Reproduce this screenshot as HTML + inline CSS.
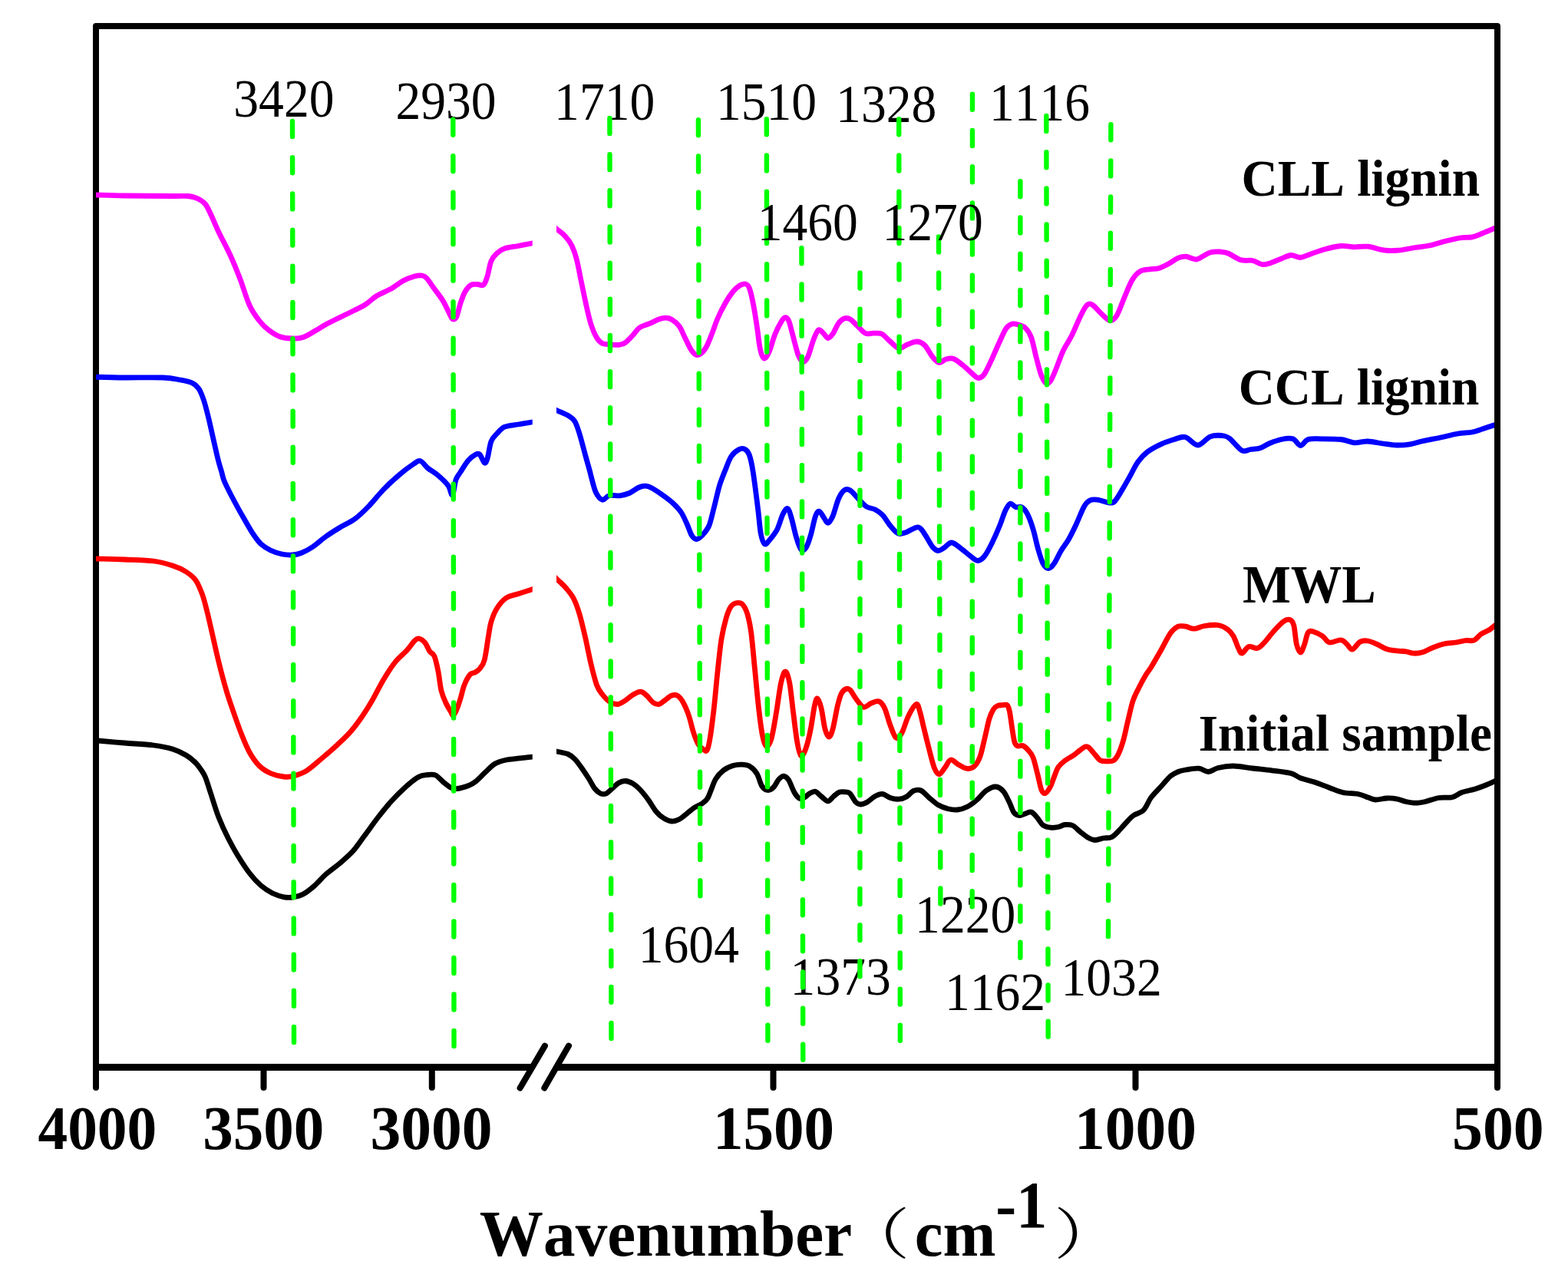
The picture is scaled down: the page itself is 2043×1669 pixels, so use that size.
<!DOCTYPE html>
<html><head><meta charset="utf-8"><title>FTIR spectra</title>
<style>
html,body{margin:0;padding:0;background:#fff;}
svg{display:block;}
text{font-family:"Liberation Serif","Noto Serif CJK SC",serif;font-size:100px;fill:#000;font-kerning:none;}
text.b{font-weight:bold;}
text.c{font-family:"Noto Serif CJK SC","Liberation Serif",serif;}
</style></head>
<body>
<svg width="2043" height="1669" viewBox="0 0 2043 1669">
<defs>
<clipPath id="cl"><rect x="125" y="38" width="568.75" height="1348"/></clipPath>
<clipPath id="cr"><rect x="725" y="38" width="1222" height="1348"/></clipPath>
</defs>
<rect width="2043" height="1669" fill="#fff"/>
<g fill="none" stroke="#000" stroke-width="8" stroke-linecap="round" stroke-linejoin="round">
<path d="M125 1417V34H1951V1417"/>
<path d="M121 1390.5H693.5M725 1390.5H1951" stroke-width="8.8" stroke-linecap="butt"/>
<line x1="343.5" y1="1390" x2="343.5" y2="1417"/>
<line x1="562.8" y1="1390" x2="562.8" y2="1417"/>
<line x1="1007.5" y1="1390" x2="1007.5" y2="1417"/>
<line x1="1479.5" y1="1390" x2="1479.5" y2="1417"/>
<path d="M677.6 1417.5L709.9 1362.6M709.3 1417.5L741 1362.6"/>
</g>
<g fill="none" stroke-width="6.8" stroke-linejoin="round" stroke-linecap="butt">
<path d="M121.0 964.4C122.1 964.5 120.6 964.4 127.5 965.0C134.4 965.6 150.4 967.0 162.5 968.0C174.6 969.0 189.6 969.7 200.0 971.0C210.4 972.3 217.9 973.8 225.0 976.0C232.1 978.2 237.5 981.0 242.5 984.0C247.5 987.0 251.8 990.8 255.0 994.0C258.2 997.2 259.9 999.9 262.0 1003.0C264.1 1006.1 265.3 1007.2 267.5 1012.5C269.7 1017.8 272.1 1026.2 275.0 1035.0C277.9 1043.8 281.2 1055.4 285.0 1065.0C288.8 1074.6 293.3 1084.2 297.5 1092.5C301.7 1100.8 305.4 1107.5 310.0 1115.0C314.6 1122.5 320.0 1131.0 325.0 1137.5C330.0 1144.0 335.0 1149.4 340.0 1153.8C345.0 1158.1 350.0 1161.2 355.0 1163.8C360.0 1166.2 365.4 1167.9 370.0 1168.8C374.6 1169.6 378.3 1169.4 382.5 1168.8C386.7 1168.1 390.4 1167.5 395.0 1165.0C399.6 1162.5 405.0 1158.1 410.0 1153.8C415.0 1149.4 419.6 1143.5 425.0 1138.8C430.4 1134.0 436.7 1130.0 442.5 1125.0C448.3 1120.0 454.6 1114.8 460.0 1108.8C465.4 1102.7 469.6 1096.0 475.0 1088.8C480.4 1081.5 486.7 1072.5 492.5 1065.0C498.3 1057.5 504.2 1050.2 510.0 1043.8C515.8 1037.3 521.7 1031.5 527.5 1026.2C533.3 1021.0 540.0 1015.3 545.0 1012.5C550.0 1009.7 553.8 1009.9 557.5 1009.5C561.2 1009.1 564.2 1008.5 567.5 1010.0C570.8 1011.5 574.2 1016.0 577.5 1018.8C580.8 1021.5 584.4 1024.8 587.5 1026.2C590.6 1027.7 592.5 1027.9 596.2 1027.5C600.0 1027.1 606.0 1025.3 610.0 1023.8C614.0 1022.2 616.2 1021.0 620.0 1018.0C623.8 1015.0 628.3 1009.8 632.5 1006.0C636.7 1002.2 640.4 997.7 645.0 995.0C649.6 992.3 655.0 991.1 660.0 990.0C665.0 988.9 669.5 988.9 675.0 988.2C680.5 987.6 689.2 986.7 693.0 986.2C696.8 985.8 697.2 985.8 698.0 985.7" stroke="#000" clip-path="url(#cl)"/>
<path d="M721.0 978.0C721.9 978.2 723.1 978.5 726.2 979.2C729.4 980.0 736.2 980.9 740.0 982.5C743.8 984.1 745.8 985.8 748.8 988.8C751.7 991.7 754.4 995.6 757.5 1000.0C760.6 1004.4 764.6 1010.4 767.5 1015.0C770.4 1019.6 772.5 1024.4 775.0 1027.5C777.5 1030.6 780.0 1032.7 782.5 1033.8C785.0 1034.8 787.5 1034.8 790.0 1033.8C792.5 1032.7 794.8 1029.8 797.5 1027.5C800.2 1025.2 803.3 1021.7 806.2 1020.0C809.2 1018.3 811.9 1017.3 815.0 1017.5C818.1 1017.7 821.7 1019.2 825.0 1021.2C828.3 1023.3 831.7 1026.5 835.0 1030.0C838.3 1033.5 841.7 1037.9 845.0 1042.5C848.3 1047.1 851.7 1053.5 855.0 1057.5C858.3 1061.5 861.7 1064.2 865.0 1066.2C868.3 1068.3 871.7 1069.8 875.0 1070.0C878.3 1070.2 881.7 1069.2 885.0 1067.5C888.3 1065.8 891.7 1062.6 895.0 1060.0C898.3 1057.4 901.9 1054.1 905.0 1052.0C908.1 1049.9 911.0 1049.3 913.8 1047.5C916.5 1045.7 919.2 1044.2 921.2 1041.2C923.3 1038.3 924.4 1034.4 926.2 1030.0C928.1 1025.6 929.8 1019.4 932.5 1015.0C935.2 1010.6 938.8 1006.7 942.5 1003.8C946.2 1000.8 950.8 998.8 955.0 997.5C959.2 996.2 963.8 996.0 967.5 996.2C971.2 996.5 974.4 996.8 977.5 998.8C980.6 1000.7 983.8 1003.8 986.2 1008.0C988.8 1012.2 990.2 1020.2 992.5 1023.8C994.8 1027.3 997.5 1029.1 1000.0 1029.5C1002.5 1029.9 1005.0 1028.7 1007.5 1026.2C1010.0 1023.8 1012.7 1017.5 1015.0 1015.0C1017.3 1012.5 1019.2 1011.0 1021.2 1011.2C1023.3 1011.5 1025.2 1012.7 1027.5 1016.2C1029.8 1019.8 1032.7 1028.5 1035.0 1032.5C1037.3 1036.5 1039.2 1038.8 1041.2 1040.0C1043.3 1041.2 1045.2 1040.5 1047.5 1039.5C1049.8 1038.5 1052.5 1035.1 1055.0 1033.8C1057.5 1032.4 1060.0 1030.6 1062.5 1031.2C1065.0 1031.9 1067.3 1035.4 1070.0 1037.5C1072.7 1039.6 1076.0 1043.8 1078.8 1043.8C1081.5 1043.8 1083.8 1039.5 1086.2 1037.5C1088.8 1035.5 1091.0 1032.9 1093.8 1032.0C1096.5 1031.1 1100.2 1031.7 1102.5 1032.0C1104.8 1032.3 1105.4 1031.6 1107.5 1033.8C1109.6 1035.9 1112.7 1042.6 1115.0 1045.0C1117.3 1047.4 1118.8 1048.0 1121.2 1048.0C1123.8 1048.0 1126.9 1046.8 1130.0 1045.0C1133.1 1043.2 1136.7 1039.2 1140.0 1037.5C1143.3 1035.8 1146.7 1034.2 1150.0 1034.5C1153.3 1034.8 1156.5 1038.4 1160.0 1039.5C1163.5 1040.6 1167.7 1041.5 1171.2 1041.2C1174.8 1041.0 1178.1 1039.8 1181.2 1038.0C1184.4 1036.2 1186.9 1031.8 1190.0 1030.5C1193.1 1029.2 1196.7 1028.6 1200.0 1030.0C1203.3 1031.4 1206.2 1035.6 1210.0 1038.8C1213.8 1041.9 1218.3 1046.2 1222.5 1048.8C1226.7 1051.2 1230.8 1052.7 1235.0 1053.8C1239.2 1054.8 1243.3 1055.4 1247.5 1055.0C1251.7 1054.6 1255.8 1053.3 1260.0 1051.2C1264.2 1049.2 1268.3 1046.0 1272.5 1042.5C1276.7 1039.0 1280.8 1032.9 1285.0 1030.0C1289.2 1027.1 1293.8 1024.8 1297.5 1025.0C1301.2 1025.2 1304.6 1027.9 1307.5 1031.2C1310.4 1034.6 1312.7 1040.4 1315.0 1045.0C1317.3 1049.6 1319.0 1055.8 1321.2 1058.8C1323.5 1061.7 1326.2 1062.3 1328.8 1062.5C1331.2 1062.7 1333.8 1060.8 1336.2 1060.0C1338.8 1059.2 1341.2 1057.2 1343.8 1058.0C1346.2 1058.8 1348.8 1062.2 1351.2 1065.0C1353.8 1067.8 1355.8 1072.8 1358.8 1075.0C1361.7 1077.2 1365.4 1077.8 1368.8 1078.2C1372.1 1078.7 1375.6 1078.1 1378.8 1077.5C1381.9 1076.9 1384.4 1074.8 1387.5 1074.5C1390.6 1074.2 1394.2 1074.0 1397.5 1075.5C1400.8 1077.0 1404.2 1081.1 1407.5 1083.8C1410.8 1086.4 1414.4 1089.5 1417.5 1091.2C1420.6 1093.0 1422.9 1094.4 1426.2 1094.5C1429.6 1094.6 1433.8 1092.7 1437.5 1092.0C1441.2 1091.3 1445.0 1092.5 1448.8 1090.5C1452.5 1088.5 1456.5 1083.6 1460.0 1080.0C1463.5 1076.4 1467.1 1071.8 1470.0 1068.8C1472.9 1065.8 1474.2 1064.2 1477.5 1062.0C1480.8 1059.8 1486.2 1059.4 1490.0 1055.5C1493.8 1051.6 1496.2 1043.8 1500.0 1038.8C1503.8 1033.7 1508.3 1029.6 1512.5 1025.0C1516.7 1020.4 1521.2 1014.5 1525.0 1011.2C1528.8 1008.0 1531.7 1006.9 1535.0 1005.5C1538.3 1004.1 1540.5 1003.7 1545.0 1003.0C1549.5 1002.3 1557.1 1000.8 1562.0 1001.2C1566.9 1001.7 1570.3 1005.6 1574.5 1005.5C1578.7 1005.4 1581.6 1001.8 1587.0 1000.5C1592.4 999.2 1599.5 997.9 1607.0 998.0C1614.5 998.1 1623.7 1000.0 1632.0 1001.0C1640.3 1002.0 1648.7 1002.7 1657.0 1003.8C1665.3 1004.8 1675.8 1005.8 1682.0 1007.5C1688.2 1009.2 1689.5 1011.9 1694.5 1013.8C1699.5 1015.6 1705.8 1016.7 1712.0 1018.8C1718.2 1020.8 1725.8 1024.0 1732.0 1026.2C1738.2 1028.5 1743.2 1031.1 1749.5 1032.5C1755.8 1033.9 1764.1 1033.5 1769.5 1034.5C1774.9 1035.5 1778.2 1037.5 1782.0 1038.8C1785.8 1040.0 1787.8 1041.8 1792.0 1042.0C1796.2 1042.2 1802.4 1040.2 1807.0 1040.0C1811.6 1039.8 1815.3 1040.0 1819.5 1040.8C1823.7 1041.5 1827.8 1043.6 1832.0 1044.5C1836.2 1045.4 1840.3 1046.2 1844.5 1046.2C1848.7 1046.2 1852.0 1045.6 1857.0 1044.5C1862.0 1043.4 1868.7 1040.5 1874.5 1039.5C1880.3 1038.5 1887.0 1039.9 1892.0 1038.8C1897.0 1037.6 1899.5 1034.3 1904.5 1032.5C1909.5 1030.7 1916.6 1029.7 1922.0 1028.0C1927.4 1026.3 1932.8 1024.2 1937.0 1022.5C1941.2 1020.8 1944.5 1019.1 1947.0 1018.0C1949.5 1016.9 1951.2 1016.1 1952.0 1015.8" stroke="#000" clip-path="url(#cr)"/>
<path d="M121.0 727.9C121.7 727.9 118.1 727.8 125.0 728.0C131.9 728.2 150.0 728.5 162.5 729.0C175.0 729.5 189.6 729.7 200.0 731.0C210.4 732.3 217.9 734.7 225.0 737.0C232.1 739.3 237.5 741.8 242.5 745.0C247.5 748.2 251.5 751.0 255.0 756.0C258.5 761.0 261.2 768.1 263.8 775.0C266.2 781.9 267.7 788.3 270.0 797.5C272.3 806.7 275.0 819.2 277.5 830.0C280.0 840.8 282.1 850.8 285.0 862.5C287.9 874.2 291.7 888.8 295.0 900.0C298.3 911.2 301.7 920.4 305.0 930.0C308.3 939.6 311.7 949.2 315.0 957.5C318.3 965.8 321.2 973.3 325.0 980.0C328.8 986.7 332.9 992.9 337.5 997.5C342.1 1002.1 347.1 1005.1 352.5 1007.5C357.9 1009.9 365.0 1011.4 370.0 1012.0C375.0 1012.6 377.5 1012.4 382.5 1011.0C387.5 1009.6 393.8 1007.7 400.0 1003.8C406.2 999.8 413.3 993.1 420.0 987.5C426.7 981.9 433.8 975.8 440.0 970.0C446.2 964.2 452.1 958.8 457.5 952.5C462.9 946.2 467.9 939.2 472.5 932.5C477.1 925.8 480.4 920.4 485.0 912.5C489.6 904.6 495.0 893.3 500.0 885.0C505.0 876.7 510.0 868.8 515.0 862.5C520.0 856.2 525.8 852.1 530.0 847.5C534.2 842.9 537.3 837.6 540.0 835.0C542.7 832.4 543.7 831.6 546.0 832.0C548.3 832.4 551.4 834.7 553.8 837.5C556.1 840.3 558.0 845.8 560.0 848.8C562.0 851.7 564.2 850.6 566.0 855.0C567.8 859.4 569.5 867.5 571.0 875.0C572.5 882.5 573.3 893.2 575.0 900.0C576.7 906.8 578.9 911.4 581.0 916.0C583.1 920.6 585.9 924.8 587.5 927.5C589.1 930.2 589.3 932.9 590.8 932.0C592.2 931.1 594.5 925.7 596.0 922.0C597.5 918.3 598.5 914.9 600.0 910.0C601.5 905.1 602.9 897.7 605.0 892.5C607.1 887.3 610.2 881.5 612.5 878.8C614.8 876.0 616.7 877.5 618.8 876.2C620.8 875.0 622.9 874.0 625.0 871.2C627.1 868.5 629.4 866.9 631.2 860.0C633.1 853.1 634.8 838.3 636.2 830.0C637.7 821.7 638.1 816.2 640.0 810.0C641.9 803.8 644.2 797.7 647.5 792.5C650.8 787.3 655.4 781.9 660.0 778.8C664.6 775.6 669.5 775.5 675.0 773.8C680.5 772.0 689.2 769.2 693.0 768.0C696.8 766.8 697.2 766.7 698.0 766.4" stroke="#f00" clip-path="url(#cl)"/>
<path d="M721.0 749.8C721.9 750.6 723.5 752.2 726.2 755.0C729.0 757.8 734.0 762.1 737.5 766.2C741.0 770.4 744.6 774.4 747.5 780.0C750.4 785.6 752.5 791.7 755.0 800.0C757.5 808.3 760.0 819.2 762.5 830.0C765.0 840.8 767.5 854.6 770.0 865.0C772.5 875.4 775.0 885.8 777.5 892.5C780.0 899.2 782.3 901.5 785.0 905.0C787.7 908.5 790.4 911.7 793.8 913.8C797.1 915.8 801.5 917.7 805.0 917.5C808.5 917.3 811.7 914.6 815.0 912.5C818.3 910.4 821.7 906.9 825.0 905.0C828.3 903.1 832.1 901.0 835.0 901.2C837.9 901.5 839.8 903.9 842.5 906.2C845.2 908.6 848.5 913.6 851.2 915.5C854.0 917.4 856.2 918.0 858.8 917.5C861.2 917.0 863.5 914.4 866.2 912.5C869.0 910.6 872.3 907.3 875.0 906.2C877.7 905.2 880.0 904.8 882.5 906.2C885.0 907.7 887.5 910.6 890.0 915.0C892.5 919.4 895.2 925.8 897.5 932.5C899.8 939.2 901.7 948.8 903.8 955.0C905.8 961.2 907.9 966.5 910.0 970.0C912.1 973.5 914.4 975.0 916.2 976.2C918.1 977.5 919.8 979.8 921.2 977.5C922.7 975.2 923.5 971.2 925.0 962.5C926.5 953.8 928.3 939.6 930.0 925.0C931.7 910.4 933.3 890.4 935.0 875.0C936.7 859.6 938.1 844.2 940.0 832.5C941.9 820.8 944.2 812.1 946.2 805.0C948.3 797.9 950.2 793.2 952.5 790.0C954.8 786.8 957.5 785.9 960.0 785.5C962.5 785.1 965.2 785.1 967.5 787.5C969.8 789.9 971.9 793.8 973.8 800.0C975.6 806.2 977.1 812.5 978.8 825.0C980.4 837.5 982.1 858.3 983.8 875.0C985.4 891.7 987.1 910.8 988.8 925.0C990.4 939.2 992.1 952.1 993.8 960.0C995.4 967.9 996.9 972.1 998.8 972.5C1000.6 972.9 1002.9 969.6 1005.0 962.5C1007.1 955.4 1009.2 942.1 1011.2 930.0C1013.3 917.9 1015.5 899.2 1017.5 890.0C1019.5 880.8 1021.4 875.0 1023.2 875.0C1025.1 875.0 1027.0 880.8 1028.8 890.0C1030.5 899.2 1032.1 917.1 1033.8 930.0C1035.4 942.9 1037.1 958.3 1038.8 967.5C1040.4 976.7 1041.9 983.8 1043.8 985.0C1045.6 986.2 1047.9 980.8 1050.0 975.0C1052.1 969.2 1054.4 959.2 1056.2 950.0C1058.1 940.8 1059.8 926.7 1061.2 920.0C1062.7 913.3 1063.5 909.6 1065.0 910.0C1066.5 910.4 1068.3 915.8 1070.0 922.5C1071.7 929.2 1073.3 943.8 1075.0 950.0C1076.7 956.2 1078.3 960.0 1080.0 960.0C1081.7 960.0 1083.1 956.7 1085.0 950.0C1086.9 943.3 1089.4 927.7 1091.2 920.0C1093.1 912.3 1094.4 907.5 1096.2 903.8C1098.1 900.0 1100.6 898.3 1102.5 897.5C1104.4 896.7 1105.4 896.7 1107.5 898.8C1109.6 900.8 1112.1 906.2 1115.0 910.0C1117.9 913.8 1121.7 920.2 1125.0 921.2C1128.3 922.3 1131.7 917.5 1135.0 916.2C1138.3 915.0 1142.1 912.7 1145.0 913.8C1147.9 914.8 1150.0 917.3 1152.5 922.5C1155.0 927.7 1157.5 938.5 1160.0 945.0C1162.5 951.5 1165.0 959.6 1167.5 961.2C1170.0 962.9 1172.3 959.8 1175.0 955.0C1177.7 950.2 1180.6 938.8 1183.8 932.5C1186.9 926.2 1191.3 918.4 1193.8 917.5C1196.3 916.6 1196.9 922.0 1198.5 927.0C1200.1 932.0 1201.4 939.0 1203.5 947.7C1205.6 956.4 1209.0 970.1 1211.3 979.0C1213.6 987.9 1215.5 996.0 1217.6 1001.0C1219.7 1006.0 1221.6 1009.1 1223.9 1008.8C1226.2 1008.5 1229.2 1002.5 1231.7 999.4C1234.2 996.3 1235.8 990.5 1238.7 990.0C1241.6 989.5 1245.4 994.4 1248.9 996.3C1252.4 998.2 1256.5 1001.0 1259.9 1001.4C1263.3 1001.8 1266.4 1001.3 1269.3 998.6C1272.2 995.9 1274.8 991.7 1277.1 985.3C1279.4 978.9 1281.4 968.3 1283.4 960.2C1285.4 952.1 1287.1 942.8 1288.9 936.8C1290.7 930.8 1292.5 927.1 1294.3 924.2C1296.1 921.3 1297.8 920.4 1299.8 919.5C1301.8 918.6 1303.9 918.8 1306.0 918.7C1308.1 918.6 1310.8 917.5 1312.4 918.9C1314.0 920.3 1314.5 922.6 1315.5 927.4C1316.5 932.2 1317.5 941.2 1318.6 947.7C1319.6 954.2 1320.6 962.5 1321.8 966.5C1323.0 970.5 1323.9 971.2 1325.7 972.0C1327.5 972.8 1330.4 970.6 1332.7 971.5C1335.0 972.4 1337.6 974.9 1339.8 977.5C1342.0 980.1 1343.9 981.4 1346.0 986.9C1348.1 992.4 1350.5 1003.3 1352.3 1010.4C1354.1 1017.5 1355.4 1025.3 1357.0 1029.2C1358.6 1033.1 1359.9 1034.1 1361.7 1033.6C1363.5 1033.1 1365.9 1029.9 1368.0 1026.0C1370.1 1022.1 1372.4 1014.8 1374.2 1010.4C1376.0 1006.0 1376.8 1002.5 1378.9 999.4C1381.0 996.3 1383.4 994.2 1386.8 991.6C1390.2 989.0 1395.9 986.1 1399.3 983.7C1402.7 981.4 1404.8 979.3 1407.1 977.5C1409.4 975.7 1411.6 973.8 1413.4 973.1C1415.2 972.5 1416.0 972.1 1418.1 973.6C1420.2 975.1 1423.3 979.3 1425.9 982.2C1428.5 985.1 1430.9 989.2 1433.8 990.8C1436.7 992.4 1440.3 991.9 1443.2 991.9C1446.1 991.9 1448.7 992.4 1451.0 990.8C1453.3 989.2 1455.2 986.5 1457.3 982.2C1459.4 977.9 1461.4 972.3 1463.5 965.0C1465.6 957.7 1467.7 946.9 1469.8 938.3C1471.9 929.7 1473.8 920.3 1476.1 913.3C1478.4 906.2 1481.0 901.8 1483.9 896.0C1486.8 890.2 1490.6 883.3 1493.3 878.8C1496.0 874.3 1496.8 874.2 1500.0 869.0C1503.2 863.8 1508.3 854.8 1512.5 847.5C1516.7 840.2 1521.2 830.2 1525.0 825.0C1528.8 819.8 1531.7 817.7 1535.0 816.2C1538.3 814.8 1541.5 815.8 1545.0 816.2C1548.5 816.8 1551.7 819.4 1555.8 819.2C1559.8 819.1 1564.3 816.3 1569.5 815.5C1574.7 814.7 1582.0 813.8 1587.0 814.5C1592.0 815.2 1596.2 817.6 1599.5 820.0C1602.8 822.4 1604.7 824.8 1607.0 828.8C1609.3 832.7 1611.4 840.0 1613.2 843.8C1615.1 847.5 1616.0 851.5 1618.2 851.2C1620.5 851.0 1623.7 843.6 1627.0 842.5C1630.3 841.4 1634.9 845.3 1638.2 844.5C1641.6 843.7 1643.5 841.2 1647.0 837.5C1650.5 833.8 1655.3 827.1 1659.5 822.5C1663.7 817.9 1668.5 812.5 1672.0 810.0C1675.5 807.5 1678.5 806.7 1680.8 807.5C1683.0 808.3 1684.3 809.6 1685.8 815.0C1687.2 820.4 1688.0 834.2 1689.5 840.0C1691.0 845.8 1692.8 850.0 1694.5 850.0C1696.2 850.0 1697.8 844.4 1699.5 840.0C1701.2 835.6 1702.4 826.5 1704.5 823.8C1706.6 821.0 1708.9 822.4 1712.0 823.2C1715.1 824.1 1719.9 826.5 1723.2 828.8C1726.6 831.0 1728.0 836.2 1732.0 837.0C1736.0 837.8 1743.2 833.5 1747.0 833.8C1750.8 834.0 1752.0 836.7 1754.5 838.8C1757.0 840.8 1759.1 846.7 1762.0 846.2C1764.9 845.8 1768.7 838.1 1772.0 836.2C1775.3 834.4 1778.2 834.5 1782.0 835.0C1785.8 835.5 1790.3 837.7 1794.5 839.5C1798.7 841.3 1802.4 844.3 1807.0 845.8C1811.6 847.2 1817.8 847.8 1822.0 848.2C1826.2 848.8 1828.7 848.2 1832.0 848.8C1835.3 849.2 1838.2 851.1 1842.0 851.2C1845.8 851.4 1850.3 850.8 1854.5 849.5C1858.7 848.2 1862.4 845.5 1867.0 843.8C1871.6 842.0 1877.0 839.9 1882.0 838.8C1887.0 837.6 1892.4 837.7 1897.0 837.0C1901.6 836.3 1905.5 835.0 1909.5 834.5C1913.5 834.0 1917.4 835.6 1920.8 834.2C1924.1 832.9 1926.4 828.4 1929.5 826.2C1932.6 824.1 1936.6 823.0 1939.5 821.2C1942.4 819.5 1944.9 817.1 1947.0 815.5C1949.1 813.9 1951.2 812.3 1952.0 811.7" stroke="#f00" clip-path="url(#cr)"/>
<path d="M121.0 491.2C121.7 491.2 118.1 491.1 125.0 491.2C131.9 491.4 147.9 491.9 162.5 492.0C177.1 492.1 200.4 491.5 212.5 492.0C224.6 492.5 228.8 493.9 235.0 495.0C241.2 496.1 246.0 496.9 250.0 498.8C254.0 500.6 256.2 502.7 258.8 506.2C261.2 509.8 262.9 514.0 265.0 520.0C267.1 526.0 269.2 534.2 271.2 542.5C273.3 550.8 275.4 560.8 277.5 570.0C279.6 579.2 281.9 590.0 283.8 597.5C285.6 605.0 287.3 610.0 288.8 615.0C290.2 620.0 289.8 621.2 292.5 627.5C295.2 633.8 300.8 644.6 305.0 652.5C309.2 660.4 313.3 667.8 317.5 675.0C321.7 682.2 326.2 690.4 330.0 696.0C333.8 701.6 336.2 705.2 340.0 708.8C343.8 712.2 347.9 714.8 352.5 717.0C357.1 719.2 362.8 721.0 367.5 722.0C372.2 723.0 376.8 723.2 381.0 723.0C385.2 722.8 388.1 722.2 392.5 720.5C396.9 718.8 402.1 716.1 407.5 712.5C412.9 708.9 419.2 702.9 425.0 698.8C430.8 694.6 436.2 691.3 442.5 687.5C448.8 683.7 456.2 680.6 462.5 676.0C468.8 671.4 473.8 666.4 480.0 660.0C486.2 653.6 493.3 644.4 500.0 637.5C506.7 630.6 513.8 624.1 520.0 618.8C526.2 613.4 532.9 608.5 537.5 605.5C542.1 602.5 544.2 599.8 547.5 600.5C550.8 601.2 553.8 607.0 557.5 610.0C561.2 613.0 565.6 615.0 570.0 618.8C574.4 622.5 580.5 628.1 583.8 632.5C587.0 636.9 587.8 646.2 589.5 645.0C591.2 643.8 592.2 630.0 594.0 625.0C595.8 620.0 597.3 619.2 600.0 615.0C602.7 610.8 606.7 603.8 610.0 600.0C613.3 596.2 617.5 593.3 620.0 592.0C622.5 590.7 623.1 590.2 625.0 592.0C626.9 593.8 629.6 602.1 631.2 603.0C632.9 603.9 633.5 602.2 635.0 597.5C636.5 592.8 637.9 580.4 640.0 575.0C642.1 569.6 644.6 568.1 647.5 565.0C650.4 561.9 652.9 558.2 657.5 556.2C662.1 554.2 669.1 554.0 675.0 553.0C680.9 552.0 689.2 550.6 693.0 550.0C696.8 549.4 697.2 549.3 698.0 549.2" stroke="#00f" clip-path="url(#cl)"/>
<path d="M721.0 532.6C721.9 533.0 723.1 533.6 726.2 535.0C729.4 536.4 736.2 539.0 740.0 541.2C743.8 543.5 746.2 544.8 748.8 548.8C751.2 552.7 752.7 557.7 755.0 565.0C757.3 572.3 760.2 584.2 762.5 592.5C764.8 600.8 767.5 610.4 768.8 615.0C770.0 619.6 768.8 615.6 770.0 620.0C771.2 624.4 773.8 636.0 776.2 641.2C778.8 646.5 782.1 650.5 785.0 651.2C787.9 652.0 790.0 646.4 793.8 645.5C797.5 644.6 803.1 646.2 807.5 645.8C811.9 645.2 815.8 644.3 820.0 642.5C824.2 640.7 829.0 636.5 832.5 635.0C836.0 633.5 838.3 633.0 841.2 633.2C844.2 633.5 846.0 634.1 850.0 636.2C854.0 638.4 860.4 642.9 865.0 646.2C869.6 649.6 873.8 652.7 877.5 656.2C881.2 659.8 884.6 663.1 887.5 667.5C890.4 671.9 892.7 677.5 895.0 682.5C897.3 687.5 899.2 694.2 901.2 697.5C903.3 700.8 905.2 702.5 907.5 702.5C909.8 702.5 912.3 700.4 915.0 697.5C917.7 694.6 921.2 690.8 923.8 685.0C926.2 679.2 927.7 671.2 930.0 662.5C932.3 653.8 935.0 640.8 937.5 632.5C940.0 624.2 942.5 618.8 945.0 612.5C947.5 606.2 949.6 599.5 952.5 595.0C955.4 590.5 959.6 587.4 962.5 585.8C965.4 584.1 967.7 583.9 970.0 585.0C972.3 586.1 974.4 587.5 976.2 592.5C978.1 597.5 979.4 603.3 981.2 615.0C983.1 626.7 985.8 649.2 987.5 662.5C989.2 675.8 989.8 687.3 991.2 695.0C992.7 702.7 994.4 707.3 996.2 708.8C998.1 710.2 999.8 706.9 1002.5 703.8C1005.2 700.6 1009.6 695.6 1012.5 690.0C1015.4 684.4 1017.7 674.6 1020.0 670.0C1022.3 665.4 1024.4 661.7 1026.2 662.5C1028.1 663.3 1029.4 668.8 1031.2 675.0C1033.1 681.2 1035.4 693.1 1037.5 700.0C1039.6 706.9 1041.7 714.0 1043.8 716.2C1045.8 718.5 1047.9 716.9 1050.0 713.8C1052.1 710.6 1054.2 704.4 1056.2 697.5C1058.3 690.6 1060.6 677.7 1062.5 672.5C1064.4 667.3 1065.6 665.8 1067.5 666.2C1069.4 666.7 1071.9 672.5 1073.8 675.0C1075.6 677.5 1076.9 681.7 1078.8 681.2C1080.6 680.8 1082.7 677.7 1085.0 672.5C1087.3 667.3 1090.0 655.6 1092.5 650.0C1095.0 644.4 1097.5 640.6 1100.0 638.8C1102.5 636.9 1104.6 637.1 1107.5 638.8C1110.4 640.4 1114.0 645.2 1117.5 648.8C1121.0 652.3 1125.0 657.5 1128.8 660.0C1132.5 662.5 1136.5 661.9 1140.0 663.8C1143.5 665.6 1146.7 667.7 1150.0 671.2C1153.3 674.8 1156.7 681.0 1160.0 685.0C1163.3 689.0 1166.7 693.5 1170.0 695.0C1173.3 696.5 1175.6 695.1 1180.0 693.8C1184.4 692.4 1192.1 686.3 1196.2 686.8C1200.4 687.2 1201.9 692.0 1205.0 696.2C1208.1 700.5 1212.1 709.0 1215.0 712.5C1217.9 716.0 1220.0 717.3 1222.5 717.5C1225.0 717.7 1227.1 715.5 1230.0 713.8C1232.9 712.0 1236.2 706.8 1240.0 707.0C1243.8 707.2 1248.3 712.0 1252.5 715.0C1256.7 718.0 1261.5 722.4 1265.0 725.0C1268.5 727.6 1270.8 730.5 1273.8 730.5C1276.7 730.5 1279.4 728.8 1282.5 725.0C1285.6 721.2 1289.2 714.2 1292.5 707.5C1295.8 700.8 1299.6 692.1 1302.5 685.0C1305.4 677.9 1307.7 669.8 1310.0 665.0C1312.3 660.2 1314.0 657.0 1316.2 656.2C1318.5 655.5 1321.2 660.0 1323.8 660.8C1326.2 661.5 1328.8 659.2 1331.2 660.8C1333.8 662.3 1336.2 665.1 1338.8 670.0C1341.2 674.9 1344.0 682.5 1346.2 690.0C1348.5 697.5 1350.4 707.7 1352.5 715.0C1354.6 722.3 1356.5 729.5 1358.8 733.8C1361.0 738.0 1363.8 740.5 1366.2 740.5C1368.8 740.5 1371.0 737.6 1373.8 733.8C1376.5 729.9 1379.4 722.7 1382.5 717.5C1385.6 712.3 1389.2 708.3 1392.5 702.5C1395.8 696.7 1399.2 689.6 1402.5 682.5C1405.8 675.4 1409.6 665.1 1412.5 660.0C1415.4 654.9 1417.1 653.5 1420.0 652.0C1422.9 650.5 1425.8 650.8 1430.0 651.2C1434.2 651.8 1441.2 654.7 1445.0 655.0C1448.8 655.3 1449.6 655.9 1452.5 653.0C1455.4 650.1 1459.2 643.0 1462.5 637.5C1465.8 632.0 1469.2 625.9 1472.5 620.0C1475.8 614.1 1478.8 607.2 1482.5 602.0C1486.2 596.8 1490.0 592.6 1495.0 588.8C1500.0 584.9 1506.7 581.5 1512.5 578.8C1518.3 576.0 1524.7 574.0 1530.0 572.5C1535.3 571.0 1539.4 568.2 1544.5 569.5C1549.6 570.8 1555.3 580.1 1560.8 580.0C1566.2 579.9 1571.8 570.8 1577.0 568.8C1582.2 566.7 1587.8 567.1 1592.0 567.5C1596.2 567.9 1597.6 568.0 1602.0 571.2C1606.4 574.5 1613.7 584.6 1618.2 587.0C1622.8 589.4 1625.5 586.0 1629.5 585.5C1633.5 585.0 1637.8 585.1 1642.0 583.8C1646.2 582.4 1649.9 579.4 1654.5 577.5C1659.1 575.6 1664.5 573.5 1669.5 572.5C1674.5 571.5 1680.3 570.4 1684.5 571.8C1688.7 573.1 1691.2 580.4 1694.5 580.5C1697.8 580.6 1699.9 574.0 1704.5 572.5C1709.1 571.0 1714.9 571.8 1722.0 571.8C1729.1 571.8 1739.9 571.7 1747.0 572.5C1754.1 573.3 1758.7 576.3 1764.5 576.8C1770.3 577.2 1775.8 574.8 1782.0 575.0C1788.2 575.2 1795.8 577.2 1802.0 578.0C1808.2 578.8 1813.7 579.9 1819.5 580.0C1825.3 580.1 1831.2 579.7 1837.0 578.8C1842.8 577.8 1847.8 576.0 1854.5 574.5C1861.2 573.0 1869.5 571.6 1877.0 570.0C1884.5 568.4 1892.6 566.2 1899.5 565.0C1906.4 563.8 1912.8 564.0 1918.2 563.0C1923.7 562.0 1927.2 560.3 1932.0 558.8C1936.8 557.2 1943.7 554.9 1947.0 553.8C1950.3 552.6 1951.2 552.4 1952.0 552.1" stroke="#00f" clip-path="url(#cr)"/>
<path d="M121.0 253.9C121.7 253.9 118.1 253.8 125.0 254.0C131.9 254.2 145.8 254.8 162.5 255.0C179.2 255.2 211.2 255.4 225.0 255.5C238.8 255.6 239.6 255.0 245.0 255.5C250.4 256.0 253.8 257.0 257.5 258.8C261.2 260.5 264.6 262.5 267.5 266.0C270.4 269.5 272.1 273.9 275.0 280.0C277.9 286.1 280.8 293.8 285.0 302.5C289.2 311.2 295.4 322.5 300.0 332.5C304.6 342.5 308.3 351.7 312.5 362.5C316.7 373.3 320.8 388.3 325.0 397.5C329.2 406.7 333.3 412.1 337.5 417.5C341.7 422.9 345.4 426.5 350.0 430.0C354.6 433.5 359.8 436.9 365.0 438.8C370.2 440.6 376.0 440.9 381.0 441.0C386.0 441.1 389.8 441.3 395.0 439.5C400.2 437.7 407.5 432.8 412.5 430.0C417.5 427.2 418.8 425.8 425.0 422.5C431.2 419.2 441.7 414.2 450.0 410.0C458.3 405.8 468.3 401.5 475.0 397.5C481.7 393.5 484.2 389.6 490.0 386.0C495.8 382.4 504.2 379.3 510.0 376.0C515.8 372.7 520.0 368.7 525.0 366.0C530.0 363.3 535.8 361.2 540.0 360.0C544.2 358.8 547.3 358.6 550.0 359.0C552.7 359.4 553.5 359.8 556.0 362.5C558.5 365.2 561.4 370.0 565.0 375.0C568.6 380.0 573.8 386.2 577.5 392.5C581.2 398.8 585.3 408.6 587.5 412.5C589.7 416.4 589.2 416.0 590.5 416.0C591.8 416.0 593.4 416.0 595.0 412.5C596.6 409.0 598.2 400.4 600.0 395.0C601.8 389.6 603.7 384.0 606.0 380.0C608.3 376.0 611.0 372.8 613.8 371.2C616.5 369.7 619.8 370.5 622.5 370.5C625.2 370.5 627.9 373.0 630.0 371.2C632.1 369.5 633.3 365.2 635.0 360.0C636.7 354.8 637.9 345.0 640.0 340.0C642.1 335.0 644.6 332.7 647.5 330.0C650.4 327.3 652.9 325.3 657.5 323.8C662.1 322.2 669.1 321.6 675.0 320.5C680.9 319.4 689.2 317.7 693.0 317.0C696.8 316.3 697.2 316.2 698.0 316.0" stroke="#f0f" clip-path="url(#cl)"/>
<path d="M721.0 294.9C721.9 295.6 723.7 297.2 726.2 299.2C728.8 301.3 733.1 304.0 736.2 307.5C739.4 311.0 742.5 315.0 745.0 320.0C747.5 325.0 749.2 329.6 751.2 337.5C753.3 345.4 755.4 357.5 757.5 367.5C759.6 377.5 761.7 388.3 763.8 397.5C765.8 406.7 767.7 415.4 770.0 422.5C772.3 429.6 775.0 435.8 777.5 440.0C780.0 444.2 782.1 446.0 785.0 447.5C787.9 449.0 791.2 448.5 795.0 448.8C798.8 449.0 804.2 449.7 807.5 449.2C810.8 448.8 812.1 448.4 815.0 446.2C817.9 444.1 822.1 439.4 825.0 436.2C827.9 433.1 830.0 429.6 832.5 427.5C835.0 425.4 837.5 424.8 840.0 423.8C842.5 422.7 844.6 422.5 847.5 421.2C850.4 420.0 854.2 417.4 857.5 416.2C860.8 415.1 864.6 414.2 867.5 414.2C870.4 414.2 872.1 414.5 875.0 416.2C877.9 418.0 882.1 421.0 885.0 425.0C887.9 429.0 890.0 435.0 892.5 440.0C895.0 445.0 897.7 451.3 900.0 455.0C902.3 458.7 904.2 461.0 906.2 462.0C908.3 463.0 910.2 462.8 912.5 461.2C914.8 459.7 917.5 456.9 920.0 452.5C922.5 448.1 925.0 441.2 927.5 435.0C930.0 428.8 932.1 421.7 935.0 415.0C937.9 408.3 941.7 400.8 945.0 395.0C948.3 389.2 951.9 383.8 955.0 380.0C958.1 376.2 961.0 373.7 963.8 372.0C966.5 370.3 969.2 369.5 971.2 370.0C973.3 370.5 974.6 370.8 976.2 375.0C977.9 379.2 979.6 386.7 981.2 395.0C982.9 403.3 984.8 415.4 986.2 425.0C987.7 434.6 988.8 445.8 990.0 452.5C991.2 459.2 992.5 462.7 993.8 465.0C995.0 467.3 996.0 467.5 997.5 466.2C999.0 465.0 1000.4 462.7 1002.5 457.5C1004.6 452.3 1007.5 441.2 1010.0 435.0C1012.5 428.8 1015.4 423.5 1017.5 420.0C1019.6 416.5 1020.8 414.2 1022.5 413.8C1024.2 413.3 1025.8 414.0 1027.5 417.5C1029.2 421.0 1030.4 427.5 1032.5 435.0C1034.6 442.5 1037.7 456.5 1040.0 462.5C1042.3 468.5 1044.2 470.8 1046.2 471.2C1048.3 471.7 1050.2 469.8 1052.5 465.0C1054.8 460.2 1057.7 448.3 1060.0 442.5C1062.3 436.7 1064.2 431.5 1066.2 430.0C1068.3 428.5 1070.4 432.0 1072.5 433.8C1074.6 435.5 1076.7 440.3 1078.8 440.5C1080.8 440.7 1082.7 438.2 1085.0 435.0C1087.3 431.8 1090.0 424.6 1092.5 421.2C1095.0 417.9 1097.5 415.9 1100.0 415.0C1102.5 414.1 1104.6 414.1 1107.5 415.8C1110.4 417.4 1114.2 421.9 1117.5 425.0C1120.8 428.1 1124.2 432.7 1127.5 434.2C1130.8 435.8 1134.0 434.1 1137.5 434.2C1141.0 434.4 1145.0 433.2 1148.8 435.0C1152.5 436.8 1156.2 441.9 1160.0 445.0C1163.8 448.1 1167.5 453.1 1171.2 453.8C1175.0 454.4 1178.5 450.2 1182.5 448.8C1186.5 447.3 1191.2 444.8 1195.0 445.0C1198.8 445.2 1201.7 446.7 1205.0 450.0C1208.3 453.3 1211.9 461.2 1215.0 465.0C1218.1 468.8 1220.8 472.0 1223.8 472.5C1226.7 473.0 1229.4 468.8 1232.5 468.0C1235.6 467.2 1238.8 466.1 1242.5 467.5C1246.2 468.9 1250.8 472.9 1255.0 476.2C1259.2 479.6 1264.2 484.8 1267.5 487.5C1270.8 490.2 1272.5 492.5 1275.0 492.5C1277.5 492.5 1279.6 491.7 1282.5 487.5C1285.4 483.3 1289.2 474.6 1292.5 467.5C1295.8 460.4 1299.4 451.7 1302.5 445.0C1305.6 438.3 1308.5 431.3 1311.2 427.5C1314.0 423.7 1316.0 422.7 1318.8 422.0C1321.5 421.3 1324.6 422.3 1327.5 423.2C1330.4 424.2 1333.5 424.7 1336.2 427.5C1339.0 430.3 1341.5 433.8 1343.8 440.0C1346.0 446.2 1347.9 457.1 1350.0 465.0C1352.1 472.9 1354.2 481.9 1356.2 487.5C1358.3 493.1 1360.4 497.3 1362.5 498.8C1364.6 500.2 1366.5 499.4 1368.8 496.2C1371.0 493.1 1373.5 486.5 1376.2 480.0C1379.0 473.5 1381.7 464.6 1385.0 457.5C1388.3 450.4 1392.5 445.0 1396.2 437.5C1400.0 430.0 1404.2 419.2 1407.5 412.5C1410.8 405.8 1413.5 400.0 1416.2 397.5C1419.0 395.0 1420.6 395.6 1423.8 397.5C1426.9 399.4 1431.2 405.4 1435.0 408.8C1438.8 412.1 1442.9 417.1 1446.2 417.5C1449.6 417.9 1451.9 416.2 1455.0 411.2C1458.1 406.2 1461.7 395.2 1465.0 387.5C1468.3 379.8 1471.7 370.6 1475.0 365.0C1478.3 359.4 1481.2 356.1 1485.0 353.8C1488.8 351.4 1493.3 351.5 1497.5 350.8C1501.7 350.0 1505.8 350.7 1510.0 349.5C1514.2 348.3 1518.3 346.0 1522.5 343.8C1526.7 341.5 1531.2 337.8 1535.0 336.2C1538.8 334.7 1541.0 334.0 1545.0 334.2C1549.0 334.5 1555.0 338.1 1558.8 338.0C1562.5 337.9 1564.4 335.3 1567.5 333.8C1570.6 332.2 1573.8 329.7 1577.5 328.8C1581.2 327.8 1586.2 327.8 1590.0 328.0C1593.8 328.2 1595.5 328.2 1600.0 330.0C1604.5 331.8 1611.7 337.2 1617.0 338.8C1622.3 340.3 1627.4 338.5 1632.0 339.5C1636.6 340.5 1640.8 343.9 1644.5 344.5C1648.2 345.1 1650.3 344.2 1654.5 343.0C1658.7 341.8 1664.9 338.8 1669.5 337.0C1674.1 335.2 1677.8 332.8 1682.0 332.5C1686.2 332.2 1690.3 335.7 1694.5 335.5C1698.7 335.3 1701.6 333.1 1707.0 331.2C1712.4 329.4 1720.3 326.3 1727.0 324.5C1733.7 322.7 1740.8 321.0 1747.0 320.5C1753.2 320.0 1758.7 321.6 1764.5 321.8C1770.3 321.9 1775.3 320.5 1782.0 321.2C1788.7 322.0 1797.8 325.4 1804.5 326.2C1811.2 327.1 1815.3 326.9 1822.0 326.2C1828.7 325.6 1837.8 323.5 1844.5 322.5C1851.2 321.5 1855.8 321.3 1862.0 320.0C1868.2 318.7 1875.3 316.2 1882.0 314.5C1888.7 312.8 1896.0 311.0 1902.0 310.0C1908.0 309.0 1913.2 309.8 1918.2 308.8C1923.2 307.7 1927.2 305.6 1932.0 303.8C1936.8 301.9 1943.7 298.9 1947.0 297.5C1950.3 296.1 1951.2 295.8 1952.0 295.4" stroke="#f0f" clip-path="url(#cr)"/>
</g>
<g>
<text transform="translate(304.32 152.30) scale(0.6560 0.6900)">3420</text>
<text transform="translate(515.42 154.70) scale(0.6560 0.6900)">2930</text>
<text transform="translate(722.12 156.00) scale(0.6560 0.6900)">1710</text>
<text transform="translate(932.92 156.00) scale(0.6560 0.6900)">1510</text>
<text transform="translate(1089.12 159.20) scale(0.6560 0.6900)">1328</text>
<text transform="translate(1288.97 157.00) scale(0.6560 0.6900)">1116</text>
<text transform="translate(831.78 1254.00) scale(0.6560 0.6900)">1604</text>
<text transform="translate(1029.62 1296.30) scale(0.6560 0.6900)">1373</text>
<text transform="translate(1192.12 1215.40) scale(0.6560 0.6900)">1220</text>
<text transform="translate(1230.91 1315.80) scale(0.6560 0.6900)">1162</text>
<text transform="translate(1382.51 1296.70) scale(0.6560 0.6900)">1032</text>
</g>
<g fill="none" stroke="#0f0" stroke-width="6.4" stroke-linecap="round" stroke-dasharray="20 27.2">
<line x1="381" y1="158" x2="383" y2="1358" stroke-dasharray="20 27.20"/>
<line x1="590.3" y1="155.7" x2="591.5" y2="1363" stroke-dasharray="20 27.49"/>
<line x1="794.4" y1="154" x2="796.5" y2="1353" stroke-dasharray="20 27.16"/>
<line x1="909.9" y1="156.3" x2="912.4" y2="1167.2" stroke-dasharray="20 27.19"/>
<line x1="998.8" y1="155.3" x2="1000.4" y2="1355.75" stroke-dasharray="20 27.22"/>
<line x1="1044.4" y1="323.3" x2="1046.25" y2="1380.75" stroke-dasharray="20 27.16"/>
<line x1="1120.5" y1="355.5" x2="1120.4" y2="1272.3" stroke-dasharray="20 27.20"/>
<line x1="1171.2" y1="155.3" x2="1172.9" y2="1355.75" stroke-dasharray="20 27.22"/>
<line x1="1223" y1="308.4" x2="1225.4" y2="1177.5" stroke-dasharray="20 27.17"/>
<line x1="1267" y1="122.8" x2="1266.7" y2="1181.2" stroke-dasharray="20 27.20"/>
<line x1="1329.4" y1="236.3" x2="1329.4" y2="1247.8" stroke-dasharray="20 27.21"/>
<line x1="1363.3" y1="151" x2="1365.7" y2="1350.75" stroke-dasharray="20 27.19"/>
<line x1="1447.4" y1="162.2" x2="1444" y2="1220.2" stroke-dasharray="20 27.18"/>
</g>
<g>
<text transform="translate(986.72 312.90) scale(0.6560 0.6900)">1460</text>
<text transform="translate(1149.52 312.90) scale(0.6560 0.6900)">1270</text>
<text class="b" transform="translate(1617.43 255.10) scale(0.6538 0.6850)">CLL lignin</text>
<text class="b" transform="translate(1613.74 527.00) scale(0.6525 0.6850)">CCL lignin</text>
<text class="b" transform="translate(1618.90 785.40) scale(0.6661 0.6950)">MWL</text>
<text class="b" transform="translate(1561.72 978.00) scale(0.6522 0.6700)">Initial sample</text>
</g>
<g>
<text class="b" transform="translate(49.44 1497.00) scale(0.7743 0.8100)">4000</text>
<text class="b" transform="translate(264.14 1497.00) scale(0.7911 0.8100)">3500</text>
<text class="b" transform="translate(482.52 1497.00) scale(0.7958 0.8100)">3000</text>
<text class="b" transform="translate(928.97 1497.00) scale(0.7910 0.8100)">1500</text>
<text class="b" transform="translate(1400.04 1497.00) scale(0.7947 0.8100)">1000</text>
<text class="b" transform="translate(1892.01 1497.00) scale(0.7979 0.8100)">500</text>
</g>
<g>
<text class="b" transform="translate(624.85 1636.00) scale(0.8321 0.8450)">Wavenumber</text>
<text class="c" transform="translate(1095.94 1633.30) scale(0.8947 0.7200)">（</text>
<text class="b" transform="translate(1191.70 1636.00) scale(0.8278 0.8400)">cm</text>
<text class="b" transform="translate(1297.17 1599.20) scale(0.8081 0.8650)">-1</text>
<text class="c" transform="translate(1373.31 1633.30) scale(0.8596 0.7200)">）</text>
</g>
</svg>
</body></html>
